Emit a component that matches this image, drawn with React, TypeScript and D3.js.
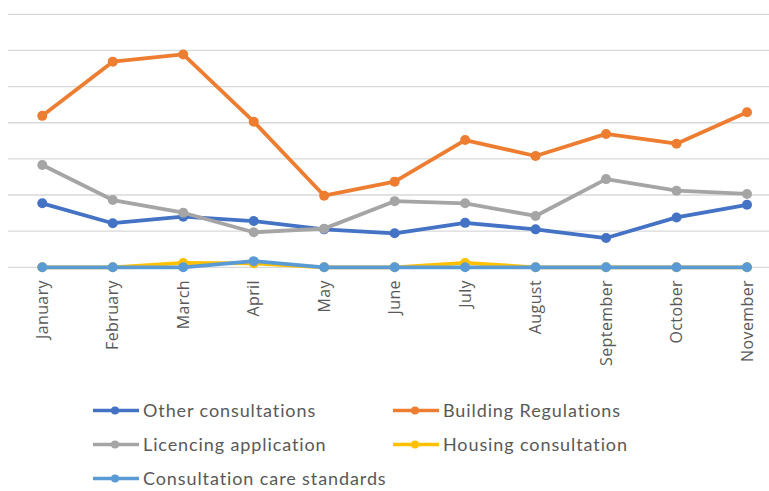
import { useRef, useLayoutEffect } from "react";
import * as d3 from "d3";

const months = [
  "January", "February", "March", "April", "May", "June",
  "July", "August", "September", "October", "November",
];

const otherConsultations = [17.7, 12.2, 14.0, 12.8, 10.5, 9.4, 12.3, 10.5, 8.1, 13.8, 17.3];
const buildingRegulations = [41.9, 56.9, 58.9, 40.3, 19.8, 23.7, 35.2, 30.8, 36.9, 34.2, 42.9];
const licencingApplication = [28.3, 18.6, 15.1, 9.7, 10.7, 18.3, 17.7, 14.2, 24.4, 21.2, 20.3];
const housingConsultation = [0, 0, 1.2, 1.1, 0, 0, 1.2, 0, 0, 0, 0];
const careStandards = [0, 0, 0, 1.7, 0, 0, 0, 0, 0, 0, 0];

const yTicks = [0, 10, 20, 30, 40, 50, 60, 70];

interface Series {
  name: string;
  values: number[];
  color: string;
}

const series: Series[] = [
  { name: "Other consultations", values: otherConsultations, color: "#4472C4" },
  { name: "Building Regulations", values: buildingRegulations, color: "#ED7D31" },
  { name: "Licencing application", values: licencingApplication, color: "#A5A5A5" },
  { name: "Housing consultation", values: housingConsultation, color: "#FFC000" },
  { name: "Consultation care standards", values: careStandards, color: "#5B9BD5" },
];

const width = 769;
const height = 491;

export default function App() {
  const svgRef = useRef<SVGSVGElement | null>(null);

  useLayoutEffect(() => {
    if (!svgRef.current) return;
    const svg = d3.select(svgRef.current);
    svg.selectAll("*").remove();

    const x = d3.scalePoint<string>().domain(months).range([42.3, 747]);
    const y = d3.scaleLinear().domain([0, 70]).range([267.3, 14.3]);

    // gridlines
    svg
      .append("g")
      .selectAll("line")
      .data(yTicks)
      .enter()
      .append("line")
      .attr("x1", 8)
      .attr("x2", 782)
      .attr("y1", (d) => y(d))
      .attr("y2", (d) => y(d))
      .attr("stroke", "#d9d9d9")
      .attr("stroke-width", 1.3);

    // x labels, rotated
    svg
      .append("g")
      .selectAll("text")
      .data(months)
      .enter()
      .append("text")
      .attr("transform", (d) => `translate(${x(d)! + 5.5}, 280) rotate(-90)`)
      .attr("text-anchor", "end")
      .attr("font-family", "'Open Sans', sans-serif")
      .attr("font-size", "16px")
      .attr("letter-spacing", "0.4px")
      .attr("fill", "#595959")
      .text((d) => d);

    const line = d3
      .line<number>()
      .x((_, i) => x(months[i])!)
      .y((d) => y(d));

    series.forEach((s) => {
      const g = svg.append("g");
      g.append("path")
        .attr("d", line(s.values))
        .attr("fill", "none")
        .attr("stroke", s.color)
        .attr("stroke-width", 3.8)
        .attr("stroke-linejoin", "round");
      g.selectAll("circle")
        .data(s.values)
        .enter()
        .append("circle")
        .attr("cx", (_, i) => x(months[i])!)
        .attr("cy", (d) => y(d))
        .attr("r", 5)
        .attr("fill", s.color);
    });

    // legend
    const legend = svg.append("g");
    series.forEach((s, i) => {
      const lx = i % 2 === 0 ? 93 : 393;
      const ly = 410.5 + Math.floor(i / 2) * 34;
      const item = legend.append("g").attr("transform", `translate(${lx}, ${ly})`);
      item.append("line")
        .attr("x1", 0)
        .attr("x2", 46)
        .attr("stroke", s.color)
        .attr("stroke-width", 3.5);
      item.append("circle").attr("cx", 22).attr("r", 4).attr("fill", s.color);
      item.append("text")
        .attr("x", 50)
        .attr("dy", "0.35em")
        .attr("font-family", "Lato, sans-serif")
        .attr("font-size", "18px")
        .attr("letter-spacing", "0.9px")
        .attr("fill", "#595959")
        .text(s.name);
    });
  }, []);

  return (
    <svg
      ref={svgRef}
      width={width}
      height={height}
      style={{ position: "absolute", left: 0, top: 0, background: "#fff" }}
    />
  );
}
